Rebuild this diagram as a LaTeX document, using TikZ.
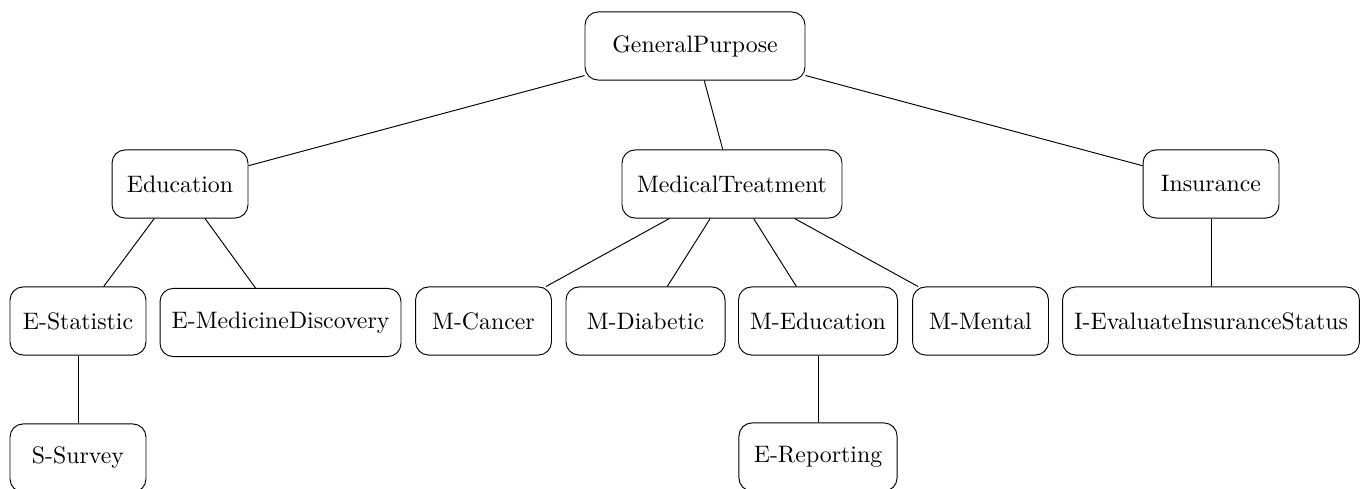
\documentclass[tikz,border=0pt]{standalone}
\begin{document}
\begin{tikzpicture}[x=0.42pt,y=-0.42pt,
  box/.style={draw, rounded corners=5.5pt, minimum height=28.6pt,
    minimum width=57.1pt, inner sep=3pt, font=\normalsize},
  link/.style={draw, line width=0.4pt}]
  \useasboundingbox (0,0) rectangle (1364,489);

  % root
  \node[box, minimum width=92.4pt] (gp) at (695,46) {GeneralPurpose};

  % second level
  \node[box] (edu) at (180,184) {Education};
  \node[box, minimum width=92.4pt] (med) at (732,184) {MedicalTreatment};
  \node[box] (ins) at (1211,184) {Insurance};

  % third level
  \node[box] (est) at (78,321) {E-Statistic};
  \node[box, minimum width=101.2pt] (emd) at (280.5,322.5) {E-MedicineDiscovery};
  \node[box] (mca) at (483.5,321) {M-Cancer};
  \node[box, minimum width=66.8pt] (mdi) at (645.5,321) {M-Diabetic};
  \node[box, minimum width=66.8pt] (med2) at (818,321) {M-Education};
  \node[box] (mme) at (980.5,321) {M-Mental};
  \node[box, minimum width=124.7pt] (iev) at (1211,321) {I-EvaluateInsuranceStatus};

  % fourth level
  \node[box] (ssu) at (78,458) {S-Survey};
  \node[box, minimum width=66.4pt] (erp) at (818,457) {E-Reporting};

  % connectors
  \draw[link] (gp) -- (edu);
  \draw[link] (gp) -- (med);
  \draw[link] (gp) -- (ins);
  \draw[link] (edu) -- (est);
  \draw[link] (edu) -- (emd);
  \draw[link] (med) -- (mca);
  \draw[link] (med) -- (mdi);
  \draw[link] (med) -- (med2);
  \draw[link] (med) -- (mme);
  \draw[link] (ins) -- (iev);
  \draw[link] (est) -- (ssu);
  \draw[link] (med2) -- (erp);
\end{tikzpicture}
\end{document}
